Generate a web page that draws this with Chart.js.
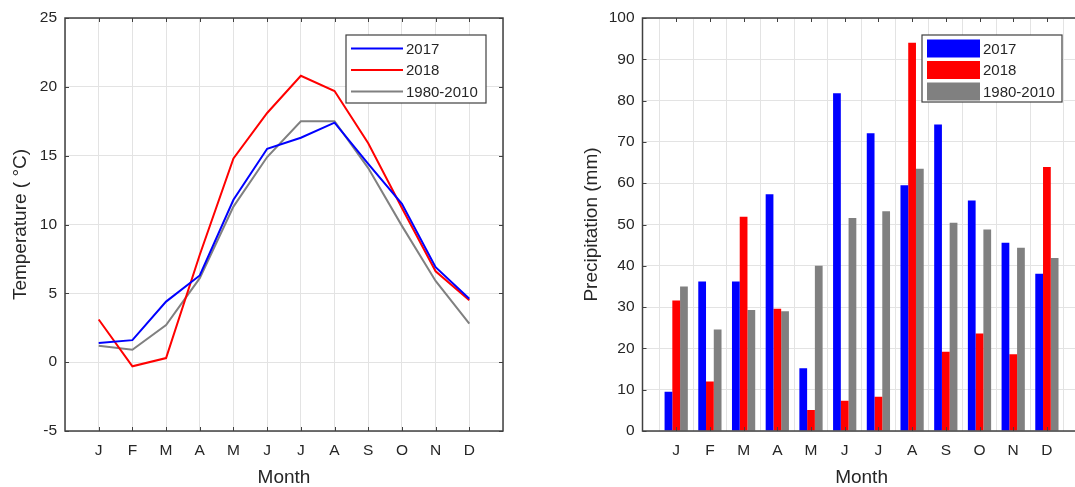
<!DOCTYPE html>
<html>
<head>
<meta charset="utf-8">
<script src="https://cdn.jsdelivr.net/npm/chart.js@4.4.1/dist/chart.umd.min.js"></script>
<style>
  html, body { margin: 0; padding: 0; background: #fff; overflow: hidden; }
  #wrap { position: relative; width: 1075px; height: 487px; overflow: hidden; }
  #c1 { position: absolute; left: 0; top: 0; }
  #c2 { position: absolute; left: 540px; top: 0; }
</style>
</head>
<body>
<div id="wrap">
  <canvas id="c1" width="540" height="487"></canvas>
  <canvas id="c2" width="560" height="487"></canvas>
</div>
<script>
// ---- data ----
const months = ['J','F','M','A','M','J','J','A','S','O','N','D'];
const seriesNames = ['2017', '2018', '1980-2010'];
const temp2017   = [1.4, 1.6, 4.4, 6.3, 11.8, 15.5, 16.3, 17.4, 14.4, 11.5, 6.9, 4.6];
const temp2018   = [3.1, -0.3, 0.3, 7.8, 14.8, 18.1, 20.8, 19.7, 15.9, 11.2, 6.6, 4.5];
const tempNormal = [1.2, 0.9, 2.7, 6.1, 11.3, 14.9, 17.5, 17.5, 14.1, 9.9, 5.9, 2.8];
const prec2017   = [9.5, 36.2, 36.2, 57.3, 15.2, 81.8, 72.1, 59.5, 74.2, 55.8, 45.6, 38.1];
const prec2018   = [31.6, 12.0, 51.9, 29.6, 5.1, 7.3, 8.3, 94.0, 19.2, 23.6, 18.6, 63.9];
const precNormal = [35.0, 24.6, 29.3, 29.0, 40.0, 51.6, 53.2, 63.5, 50.4, 48.8, 44.4, 41.9];
const tempTicks = { min: -5, max: 25, step: 5 };
const precTicks = { min: 0, max: 100, step: 10 };

// padded categories so months sit one step inside the frame
const padLabels = [''].concat(months, ['']);
const pad = arr => [null].concat(arr, [null]);

const colors = ['#0000ff', '#ff0000', '#808080'];
const TXT = '#262626';
const FONT = "'Liberation Sans', Arial, Helvetica, sans-serif";
const GRID = '#e3e3e3';
const FRAME = '#404040';

const framePlugin = {
  id: 'frame',
  afterDatasetsDraw(chart) {
    const { ctx, chartArea: a, scales } = chart;
    ctx.save();
    ctx.strokeStyle = FRAME;
    ctx.lineWidth = 1;
    const tl = 4;
    ctx.beginPath();
    const xs = scales.x;
    xs.ticks.forEach((t, i) => {
      if (!padLabels[i]) return;
      const px = Math.round(xs.getPixelForTick(i)) + 0.5;
      ctx.moveTo(px, a.bottom); ctx.lineTo(px, a.bottom - tl);
      ctx.moveTo(px, a.top); ctx.lineTo(px, a.top + tl);
    });
    const ys = scales.y;
    ys.ticks.forEach((t, i) => {
      const py = Math.round(ys.getPixelForTick(i)) + 0.5;
      ctx.moveTo(a.left, py); ctx.lineTo(a.left + tl, py);
      ctx.moveTo(a.right, py); ctx.lineTo(a.right - tl, py);
    });
    ctx.stroke();
    ctx.lineWidth = 1.5;
    ctx.strokeRect(a.left, a.top, a.right - a.left, a.bottom - a.top);
    ctx.restore();
  }
};

function legendPlugin(box, kind) {
  return {
    id: 'boxLegend',
    afterDraw(chart) {
      const ctx = chart.ctx;
      ctx.save();
      ctx.fillStyle = '#ffffff';
      ctx.fillRect(box.x, box.y, box.w, box.h);
      ctx.strokeStyle = FRAME;
      ctx.lineWidth = 1.2;
      ctx.strokeRect(box.x, box.y, box.w, box.h);
      ctx.font = '15px ' + FONT;
      ctx.textBaseline = 'middle';
      ctx.textAlign = 'left';
      chart.data.datasets.forEach((ds, i) => {
        const cy = box.y + box.rowTop + i * box.rowGap;
        if (kind === 'line') {
          ctx.strokeStyle = ds.borderColor;
          ctx.lineWidth = 2;
          ctx.beginPath();
          ctx.moveTo(box.x + box.sx0, cy);
          ctx.lineTo(box.x + box.sx1, cy);
          ctx.stroke();
        } else {
          ctx.fillStyle = ds.backgroundColor;
          ctx.fillRect(box.x + box.sx0, cy - 9, box.sx1 - box.sx0, 18);
        }
        ctx.fillStyle = TXT;
        ctx.fillText(ds.label, box.x + box.tx, cy + 1);
      });
      ctx.restore();
    }
  };
}

function axes(yTicks, yTitle, yWidth, yTitlePad) {
  return {
    x: {
      type: 'category',
      offset: false,
      grid: { color: GRID, lineWidth: 1, drawTicks: false },
      border: { display: false },
      ticks: { color: TXT, font: { family: FONT, size: 15.5 }, padding: 10, autoSkip: false, maxRotation: 0 },
      title: { display: true, text: 'Month', color: TXT, font: { family: FONT, size: 19 }, padding: { top: 0, bottom: -2 } },
      afterFit(s) { s.height = 56; }
    },
    y: {
      min: yTicks.min, max: yTicks.max,
      grid: { color: GRID, lineWidth: 1, drawTicks: false },
      border: { display: false },
      ticks: { stepSize: yTicks.step, color: TXT, font: { family: FONT, size: 15.5 }, padding: 8 },
      title: { display: true, text: yTitle, color: TXT, font: { family: FONT, size: 19 }, padding: { top: yTitlePad, bottom: 0 } },
      afterFit(s) { s.width = yWidth; }
    }
  };
}

// ---- temperature line chart ----
new Chart(document.getElementById('c1'), {
  type: 'line',
  data: {
    labels: padLabels,
    datasets: [temp2017, temp2018, tempNormal].map((d, i) => ({
      label: seriesNames[i],
      data: pad(d),
      borderColor: colors[i],
      backgroundColor: colors[i],
      borderWidth: 2,
      pointRadius: 0,
      tension: 0,
      fill: false
    }))
  },
  options: {
    responsive: false,
    animation: false,
    layout: { padding: { left: 0, right: 37, top: 18, bottom: 0 } },
    plugins: { legend: { display: false }, tooltip: { enabled: false } },
    scales: axes(tempTicks, 'Temperature ( °C)', 65, 9.5)
  },
  plugins: [framePlugin, legendPlugin({ x: 346, y: 35, w: 140, h: 68, rowTop: 13.5, rowGap: 21.5, sx0: 5, sx1: 57, tx: 60 }, 'line')]
});

// ---- precipitation bar chart ----
new Chart(document.getElementById('c2'), {
  type: 'bar',
  data: {
    labels: padLabels,
    datasets: [prec2017, prec2018, precNormal].map((d, i) => ({
      label: seriesNames[i],
      data: pad(d),
      backgroundColor: colors[i],
      borderWidth: 0,
      categoryPercentage: 0.69,
      barPercentage: 1.0
    }))
  },
  options: {
    responsive: false,
    animation: false,
    layout: { padding: { left: 0, right: 19.4, top: 18, bottom: 0 } },
    plugins: { legend: { display: false }, tooltip: { enabled: false } },
    scales: axes(precTicks, 'Precipitation (mm)', 102.5, 40)
  },
  plugins: [framePlugin, legendPlugin({ x: 382, y: 35, w: 140, h: 67, rowTop: 13.5, rowGap: 21.5, sx0: 5, sx1: 58, tx: 61 }, 'bar')]
});
</script>
</body>
</html>
